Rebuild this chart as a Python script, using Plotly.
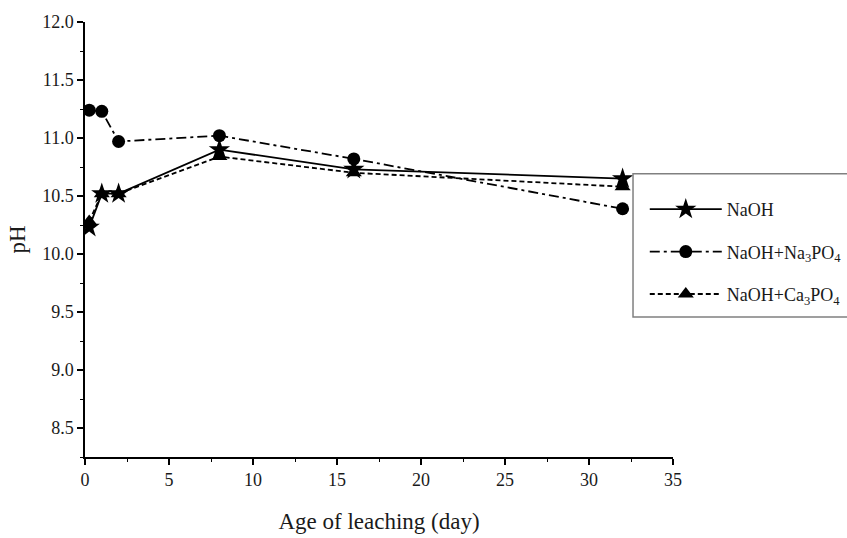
import plotly.graph_objects as go

# Leaching age (days) and measured pH for each solution
days = [0.25, 1, 2, 8, 16, 32]
ph_naoh = [10.23, 10.52, 10.52, 10.90, 10.73, 10.65]
ph_na3po4 = [11.24, 11.23, 10.97, 11.02, 10.82, 10.39]
ph_ca3po4 = [10.28, 10.52, 10.52, 10.84, 10.70, 10.58]

series_names = ["NaOH", "NaOH+Na<sub>3</sub>PO<sub>4</sub>", "NaOH+Ca<sub>3</sub>PO<sub>4</sub>"]

FONT = "Liberation Serif"
TXT = "#1a1a1a"

fig = go.Figure()
fig.add_trace(go.Scatter(
    x=days, y=ph_naoh, name=series_names[0], mode="lines+markers", legendgroup="a",
    line=dict(color="black", width=1.8, dash="solid"),
    marker=dict(symbol="star", size=16, color="black"),
))
fig.add_trace(go.Scatter(
    x=days, y=ph_na3po4, name=series_names[1], mode="lines+markers", legendgroup="b",
    line=dict(color="black", width=1.8, dash="10px,4px,3px,4px"),
    marker=dict(symbol="circle", size=13, color="black"),
))
fig.add_trace(go.Scatter(
    x=days, y=ph_ca3po4, name=series_names[2], mode="lines+markers", legendgroup="c",
    line=dict(color="black", width=1.8, dash="5px,3px"),
    marker=dict(symbol="triangle-up", size=14, color="black"),
))

tick_font = dict(family=FONT, size=18, color=TXT)
title_font = dict(family=FONT, size=23, color=TXT)

# Frame around the legend (runs off the right edge of the page)
fig.add_shape(
    type="rect", xref="paper", yref="paper",
    x0=0.932, x1=1.40, y0=0.322, y1=0.651,
    line=dict(color="#808080", width=1.5), fillcolor="rgba(0,0,0,0)", layer="above",
)

fig.update_layout(
    width=847, height=538,
    margin=dict(l=85, r=174, t=22, b=81, autoexpand=False),
    plot_bgcolor="white", paper_bgcolor="white",
    font=dict(family=FONT, color=TXT, size=18),
    legend=dict(
        x=0.952, y=0.6115, xanchor="left", yanchor="top",
        borderwidth=0, bgcolor="rgba(0,0,0,0)",
        font=dict(family=FONT, size=18, color=TXT),
        itemwidth=72, tracegroupgap=16,
    ),
    xaxis=dict(
        range=[0, 35], tickmode="linear", tick0=0, dtick=5,
        showgrid=False, zeroline=False,
        showline=True, linecolor="black", linewidth=1.5,
        ticks="outside", ticklen=6, tickwidth=1.5, tickcolor="black",
        minor=dict(dtick=2.5, ticks="outside", ticklen=3, tickwidth=1.2, tickcolor="black"),
        title=dict(text="Age of leaching (day)", font=title_font, standoff=24),
        tickfont=tick_font,
    ),
    yaxis=dict(
        range=[8.25, 12.0], tickmode="linear", tick0=8.5, dtick=0.5, tickformat=".1f",
        showgrid=False, zeroline=False,
        showline=True, linecolor="black", linewidth=1.5,
        ticks="outside", ticklen=6, tickwidth=1.5, tickcolor="black",
        minor=dict(dtick=0.25, tick0=8.25, ticks="outside", ticklen=3, tickwidth=1.2, tickcolor="black"),
        title=dict(text="pH", font=title_font, standoff=10),
        tickfont=tick_font,
    ),
)

fig.write_html("out.html")
